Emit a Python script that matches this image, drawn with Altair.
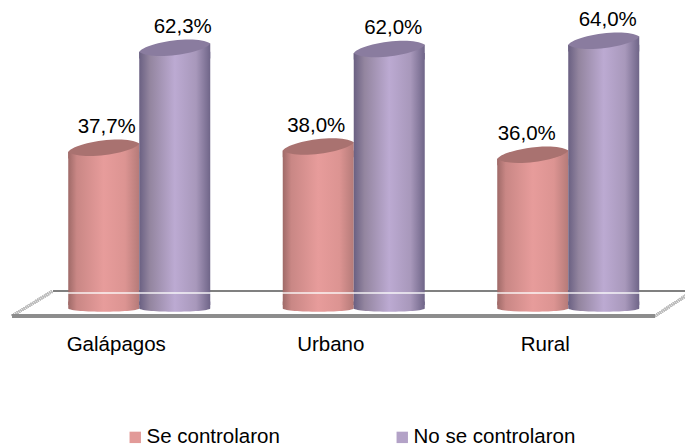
import altair as alt
import pandas as pd

categories = ["Galápagos", "Urbano", "Rural"]
series = ["Se controlaron", "No se controlaron"]
se_controlaron = [37.7, 38.0, 36.0]
no_se_controlaron = [62.3, 62.0, 64.0]
labels_a = ["37,7%", "38,0%", "36,0%"]
labels_b = ["62,3%", "62,0%", "64,0%"]

rows = []
for i, c in enumerate(categories):
    rows.append({"cat": c, "serie": series[0], "v": se_controlaron[i], "lab": labels_a[i]})
    rows.append({"cat": c, "serie": series[1], "v": no_se_controlaron[i], "lab": labels_b[i]})
df = pd.DataFrame(rows)

FONT = "Liberation Sans"
BAR = 71
X = alt.X("cat:N", sort=categories,
          scale=alt.Scale(paddingInner=0.338, paddingOuter=0.169),
          axis=alt.Axis(title=None, labelAngle=0, domain=False, ticks=False,
                        labelFont=FONT, labelFontSize=20.5, labelColor="#000000",
                        labelPadding=29, labelOffset=-23))
XO = alt.XOffset("serie:N", sort=series, scale=alt.Scale(paddingInner=0, paddingOuter=0))
Y = alt.Y("v:Q", scale=alt.Scale(domain=[0, 73.06], nice=False), axis=None)
Y0 = alt.Y("zero:Q", scale=alt.Scale(domain=[0, 73.06], nice=False), axis=None)


def grad(stops):
    return {"gradient": "linear", "x1": 0, "x2": 1, "y1": 0, "y2": 0,
            "stops": [{"offset": o, "color": c} for o, c in stops]}


styles = {
    series[0]: dict(
        body=grad([(0, "#9f6a68"), (0.12, "#c98785"), (0.5, "#e79c9b"),
                   (0.8, "#dc9492"), (1, "#b57b79")]),
        cap="#a97270", dx=[3, -2, -6]),
    series[1]: dict(
        body=grad([(0, "#6a6082"), (0.15, "#93859f"), (0.5, "#bcaad2"),
                   (0.8, "#a898bb"), (1, "#6f6588")]),
        cap="#8a7c9f", dx=[8, 4, 4]),
}

CAP = "M-1,0.12 C-0.85,-0.14 0.6,-0.38 1,-0.12 C0.85,0.14 -0.6,0.38 -1,0.12 Z"
WEDGE = "M-1,0.12 L1,-0.12 L1,0.3 L-1,0.3 Z"
FOOT = "M-1,-0.1 L1,-0.1 L1,0.1 C0.9,0.22 -0.9,0.22 -1,0.1 Z"
SIZE = BAR * BAR

base = alt.Chart(df).transform_calculate(zero="0")

# floor, behind the cylinders
back = base.mark_rule(color="#808080", strokeWidth=2).encode(
    x=alt.value(21), x2=alt.value(661), y=alt.value(283))
left_diag = base.mark_rule(color="#bdbdbd", strokeWidth=3, strokeDash=[1, 1]).encode(
    x=alt.value(-20), x2=alt.value(21), y=alt.value(308), y2=alt.value(283))
right_diag = base.mark_rule(color="#bdbdbd", strokeWidth=3, strokeDash=[1, 1]).encode(
    x=alt.value(623), x2=alt.value(661), y=alt.value(308), y2=alt.value(283))

# solid bars carry the legend
solid = base.mark_bar(size=60).encode(
    x=X, xOffset=XO, y=Y,
    color=alt.Color("serie:N", sort=series,
                    scale=alt.Scale(domain=series, range=["#e29a98", "#b3a2c7"]),
                    legend=alt.Legend(title=None, orient="none", legendX=93, legendY=419,
                                      direction="horizontal", columns=2, columnPadding=112,
                                      symbolType="square", symbolSize=130, symbolOpacity=1,
                                      labelFont=FONT, labelFontSize=20.5, labelColor="#000000",
                                      labelOffset=1, labelLimit=300, symbolStrokeWidth=0)),
)

layers = [back, left_diag, right_diag, solid]
for s in series:
    st = styles[s]
    d = base.transform_filter(alt.datum.serie == s)
    layers.append(d.mark_point(shape=FOOT, size=SIZE, filled=True, fill=st["body"], opacity=1,
                               strokeWidth=0).encode(x=X, xOffset=XO, y=Y0))
    layers.append(d.mark_bar(size=BAR, fill=st["body"]).encode(x=X, xOffset=XO, y=Y))
    layers.append(d.mark_point(shape=WEDGE, size=SIZE, filled=True, fill=st["body"], opacity=1,
                               strokeWidth=0, yOffset=-4).encode(x=X, xOffset=XO, y=Y))
    layers.append(d.mark_point(shape=CAP, size=SIZE, filled=True, fill=st["cap"], opacity=1,
                               strokeWidth=0, yOffset=-4).encode(x=X, xOffset=XO, y=Y))
    for c, dx in zip(categories, st["dx"]):
        layers.append(
            d.transform_filter(alt.datum.cat == c)
            .mark_text(font=FONT, fontSize=20.5, color="#000000", dy=-25, dx=dx, baseline="middle")
            .encode(x=X, xOffset=XO, y=Y, text="lab:N")
        )

# floor, in front of the cylinders
glint = base.mark_rule(color="#ffffff", strokeWidth=1, opacity=0.35).encode(
    x=alt.value(21), x2=alt.value(661), y=alt.value(285))
front = base.mark_rule(color="#8c8c8c", strokeWidth=3).encode(
    x=alt.value(-20), x2=alt.value(623), y=alt.value(308))
layers += [glint, front]

chart = alt.layer(*layers).properties(
    width=643.5, height=297,
    padding={"left": 24, "top": 0, "right": 9, "bottom": 143},
    autosize=alt.AutoSizeParams(type="none"),
    background="#ffffff",
).configure_view(stroke=None)

chart.save("out.html", embed_options={"renderer": "svg", "actions": False})
